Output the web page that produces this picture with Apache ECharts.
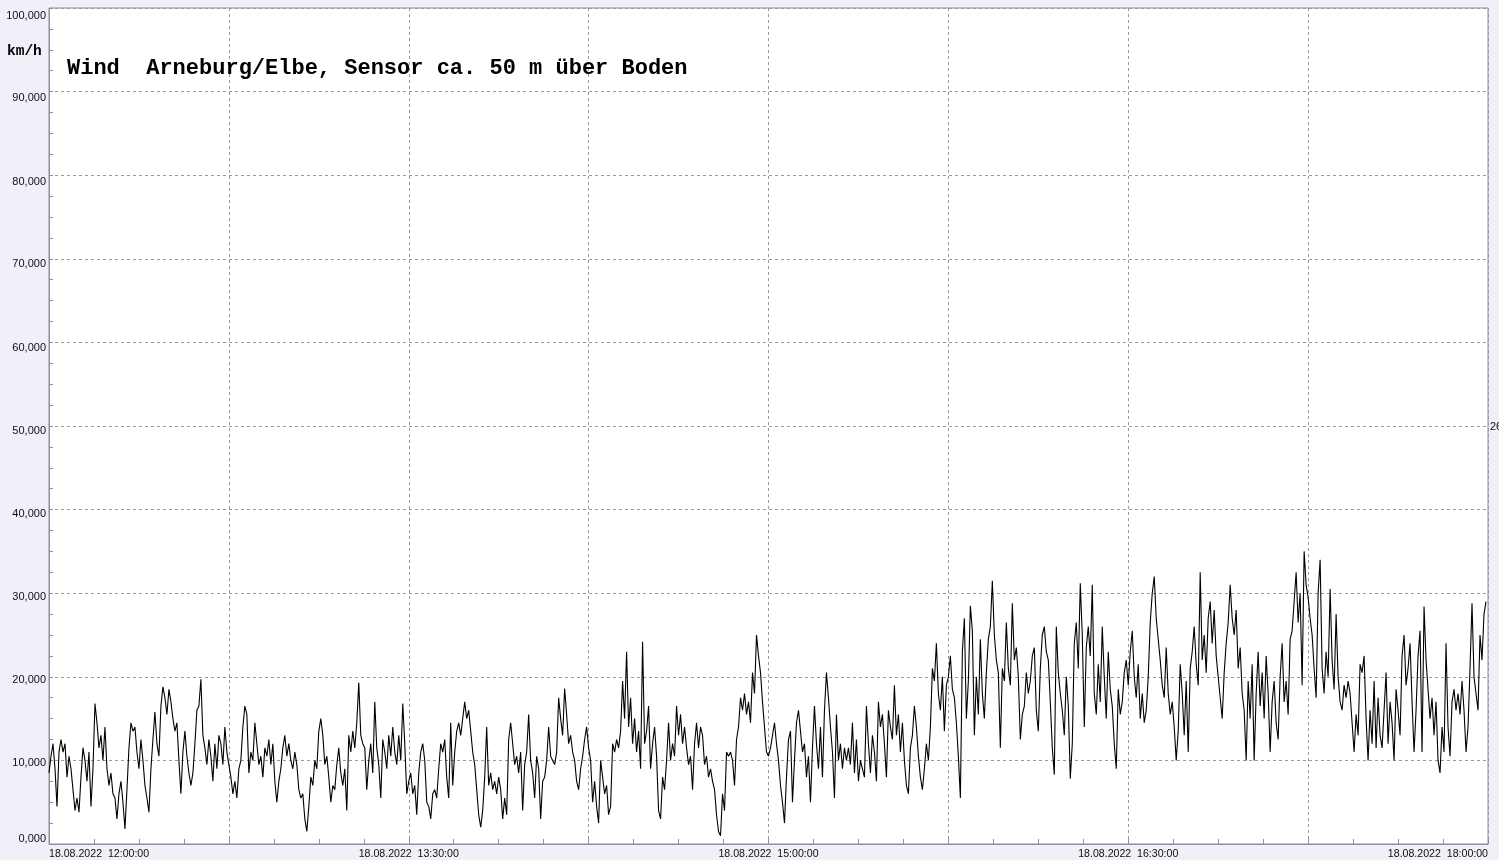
<!DOCTYPE html>
<html>
<head>
<meta charset="utf-8">
<script src="https://cdn.jsdelivr.net/npm/echarts@6/dist/echarts.min.js"></script>
<style>
html,body{margin:0;padding:0;background:#eff0f8;}
#chart{width:1499px;height:860px;}
</style>
</head>
<body>
<div id="chart"></div>
<script>
// Wind speed in km/h, one value every 30 s, in 45-minute blocks
const speed_1200 = [8.5,10.5,12.0,9.0,4.5,11.0,12.5,11.0,12.0,8.0,
10.5,9.0,6.5,4.0,5.5,3.8,8.0,11.5,10.0,7.5,
11.0,4.5,9.0,16.8,14.5,11.5,13.0,10.0,14.0,9.0,
7.0,8.5,6.0,5.5,3.0,6.0,7.5,5.0,1.8,6.5,
11.5,14.5,13.5,14.0,11.0,9.0,12.5,10.0,7.0,5.5,
3.8,9.0,12.5,15.8,12.0,10.5,16.5,18.8,17.5,15.5,
18.5,17.0,15.0,13.5,14.5,10.0,6.0,11.0,13.5,10.5,
8.5,7.0,8.5,12.0,16.0,16.5,19.7,13.0,11.5,9.5,
12.5,10.5,7.5,12.0,9.0,13.0,12.0,9.5,14.0,11.0];
const speed_1245 = [9.5,8.0,6.0,7.5,5.5,9.0,10.0,14.0,16.5,15.5,
8.5,11.0,10.0,14.5,12.0,9.5,10.5,8.0,11.5,10.5,
12.5,9.5,12.0,7.5,5.0,7.5,9.0,11.5,13.0,10.5,
12.0,10.0,9.0,11.0,9.5,6.5,5.5,6.0,3.0,1.5,
4.5,8.0,7.0,10.0,9.0,13.5,15.0,13.0,9.5,10.5,
8.0,5.0,7.0,6.5,9.5,11.5,8.5,7.0,9.0,4.0,
13.0,11.0,13.5,11.5,14.5,19.3,13.0,12.0,11.5,6.5,
10.0,12.0,8.5,17.0,11.5,9.5,5.5,12.5,11.0,9.0,
13.0,10.5,14.0,11.0,9.5,13.0,10.0,16.8,12.0,6.0];
const speed_1330 = [7.5,8.5,6.0,7.0,3.5,8.5,11.0,12.0,10.0,5.0,
4.5,3.0,6.0,6.5,5.5,9.0,12.0,11.0,12.5,8.0,
5.5,14.5,7.0,11.0,13.5,14.5,13.0,15.0,17.0,15.0,
16.0,13.5,11.0,9.5,6.5,3.5,2.0,4.0,8.0,14.0,
7.0,8.5,6.5,7.5,6.0,8.0,6.5,3.0,5.5,3.5,
12.5,14.5,12.0,9.5,10.5,8.5,11.0,4.0,9.5,11.0,
15.5,10.0,8.5,5.5,10.5,9.0,3.0,7.5,8.0,10.0,
14.0,10.5,10.0,9.5,11.0,17.5,15.0,13.0,18.6,15.5,
12.0,13.0,11.0,10.0,7.5,6.5,9.0,10.5,12.5,14.0];
const speed_1415 = [11.5,10.0,5.0,7.5,4.5,2.5,10.0,8.0,6.0,7.0,
3.5,4.5,12.0,11.0,12.5,11.5,13.5,19.5,15.0,23.0,
14.0,17.5,12.0,15.0,11.0,13.5,9.0,24.2,12.0,13.5,
16.5,9.0,12.0,14.0,10.5,4.0,3.0,8.0,6.5,10.0,
14.5,10.0,12.0,10.5,16.5,13.0,15.5,12.0,14.0,11.5,
9.5,10.5,6.5,12.0,14.5,11.5,14.0,13.0,9.5,10.5,
8.0,9.0,7.5,6.5,3.5,1.5,1.0,6.0,4.0,11.0,
10.5,11.0,10.0,7.0,12.5,14.0,17.5,16.0,18.0,15.5,
17.0,14.5,20.5,18.0,25.0,22.5,20.5,17.0,14.0,11.0];
const speed_1500 = [10.5,11.5,13.0,14.5,12.0,10.0,7.0,5.0,2.5,8.0,
12.5,13.5,5.0,10.0,14.5,16.0,13.5,11.0,12.0,8.0,
10.5,5.0,11.5,16.5,12.0,9.0,14.0,8.0,16.0,20.5,
17.5,14.0,11.0,5.5,15.5,10.0,12.0,9.0,11.5,10.0,
11.5,9.5,14.5,8.5,12.5,7.5,10.0,9.0,8.0,16.5,
12.0,8.5,13.0,11.0,7.5,17.0,14.0,15.5,12.0,8.0,
16.0,14.0,12.5,19.0,13.0,15.5,11.0,14.5,10.0,7.0,
6.0,11.5,13.0,16.5,14.0,10.5,8.0,6.5,9.0,12.0,
10.0,14.0,21.0,19.5,24.0,18.0,16.0,20.0,13.5,19.0];
const speed_1545 = [20.0,22.5,18.5,17.5,14.5,10.5,5.5,23.0,27.0,15.0,
19.5,28.5,25.5,13.0,20.0,15.5,24.5,18.0,15.0,20.5,
24.5,26.0,31.5,25.0,22.0,20.5,11.5,21.0,19.5,26.5,
21.0,19.0,28.8,22.0,23.5,20.0,12.5,15.5,16.5,20.5,
18.0,19.5,22.5,23.5,16.0,13.5,21.0,25.0,26.0,23.0,
22.0,17.0,11.5,8.3,26.0,20.5,18.0,16.0,13.0,20.0,
16.5,7.8,12.0,24.0,26.5,21.0,31.2,25.0,14.0,23.5,
26.0,22.5,31.0,18.0,15.5,21.5,17.0,26.0,20.0,15.0,
23.0,18.5,16.5,12.0,9.0,18.5,15.5,17.0,20.5,22.0];
const speed_1630 = [19.0,23.0,25.5,20.0,17.5,21.5,15.0,18.0,14.5,16.0,
20.0,26.5,30.0,32.0,27.0,24.5,22.0,19.0,17.5,23.5,
18.0,15.5,17.0,14.0,10.0,13.5,21.5,18.0,13.0,19.5,
11.0,21.0,23.0,26.0,21.5,19.0,32.5,22.0,25.0,20.5,
27.0,29.0,24.0,28.0,22.5,20.0,17.5,15.0,20.5,24.0,
26.5,31.0,27.0,25.0,28.0,21.0,23.5,18.0,16.0,10.0,
19.5,15.0,21.5,10.0,18.0,23.0,16.5,20.5,15.0,22.5,
18.0,11.0,17.0,19.5,14.5,12.5,20.0,24.0,17.0,19.5,
15.5,24.5,25.5,29.0,32.5,26.5,30.0,19.0,35.0,31.0];
const speed_1715 = [29.5,27.0,25.0,21.0,17.5,30.0,34.0,21.0,18.0,23.0,
20.0,30.5,22.0,18.5,27.5,20.0,17.0,16.0,19.0,17.5,
19.5,18.0,14.5,11.0,15.5,13.0,21.5,20.5,22.5,15.0,
10.0,16.0,12.0,19.5,11.5,17.5,13.0,11.5,16.0,20.5,
12.0,17.0,14.5,10.0,18.5,16.0,13.0,22.5,25.0,19.0,
21.0,24.0,17.0,11.0,16.0,22.5,25.5,11.0,28.4,22.0,
18.5,15.0,17.5,13.0,17.0,10.0,8.5,14.0,11.0,24.0,
14.0,10.5,17.0,18.5,16.0,18.0,15.5,19.5,16.0,11.0,
14.0,21.0,28.8,20.0,18.0,16.0,25.0,22.0,27.5,29.0];

const dateLabel = '18.08.2022';
const xTickMinutes = [0, 90, 180, 270, 360];
const xTickLabels = ['12:00:00', '13:30:00', '15:00:00', '16:30:00', '18:00:00'];
const yTickValues = [0,10,20,30,40,50,60,70,80,90,100];
const titleText = 'Wind  Arneburg/Elbe, Sensor ca. 50 m über Boden';
const unitText = 'km/h';
const edgeText = '26';
const stepMinutes = 0.5;

const allSpeeds = [].concat(speed_1200, speed_1245, speed_1330, speed_1415,
  speed_1500, speed_1545, speed_1630, speed_1715);
const seriesData = allSpeeds.map((v, i) => [i * stepMinutes, v]);

const labelFont = 'Liberation Sans, Arial, sans-serif';

// per-tick vertical offsets of the y labels (style only)
function yOffset(v) {
  if (v === 0) return -6;
  if (v === 100) return 7;
  return Math.round(2 + v * 0.045);
}
const yRich = {};
yTickValues.forEach((v, i) => {
  const d = yOffset(v);
  yRich['p' + i] = {
    fontSize: 11, fontFamily: labelFont, color: '#111',
    padding: d >= 0 ? [2 * d + 1, 0, 0, 0] : [0, 0, -2 * d - 1, 0]
  };
});

const chart = echarts.init(document.getElementById('chart'), null, {renderer: 'canvas'});
chart.setOption({
  animation: false,
  backgroundColor: '#eff0f8',
  grid: {
    left: 49, right: 11, top: 8, bottom: 16,
    show: true, backgroundColor: '#ffffff', borderColor: '#8e8e9e', borderWidth: 1
  },
  xAxis: {
    type: 'value', min: 0, max: 360, interval: 45,
    axisLine: {show: true, lineStyle: {color: '#8e8e9e', width: 1}},
    axisTick: {show: true, inside: true, length: 5, lineStyle: {color: '#8e8e9e'}},
    minorTick: {show: true, splitNumber: 4, length: 5, lineStyle: {color: '#8e8e9e'}},
    splitLine: {show: true, lineStyle: {color: '#9a9a9a', type: [3, 3], width: 1}},
    axisLabel: {
      show: true, margin: 5, fontSize: 10.6, fontFamily: labelFont, color: '#111',
      showMinLabel: true, showMaxLabel: true,
      alignMinLabel: 'left', alignMaxLabel: 'right',
      formatter: function (v) {
        const k = xTickMinutes.indexOf(Math.round(v));
        return k >= 0 ? dateLabel + '  ' + xTickLabels[k] : '';
      }
    }
  },
  yAxis: {
    type: 'value', min: 0, max: 100, interval: 10,
    axisLine: {show: true, lineStyle: {color: '#8e8e9e', width: 1}},
    axisTick: {show: true, inside: true, length: 4, lineStyle: {color: '#8e8e9e'}},
    minorTick: {show: true, splitNumber: 4, length: 4, lineStyle: {color: '#8e8e9e'}},
    splitLine: {show: true, lineStyle: {color: '#9a9a9a', type: [3, 3], width: 1}},
    axisLabel: {
      show: true, margin: 3, fontSize: 11, fontFamily: labelFont, color: '#111',
      showMinLabel: true, showMaxLabel: true,
      formatter: function (v) {
        const i = yTickValues.indexOf(Math.round(v));
        const txt = v.toFixed(3).replace('.', ',');
        return i >= 0 ? '{p' + i + '|' + txt + '}' : txt;
      },
      rich: yRich
    }
  },
  graphic: [
    {type: 'text', left: 67, top: 57, z: 100,
     style: {text: titleText, font: 'bold 22px "Liberation Mono", "DejaVu Sans Mono", monospace', fill: '#000'}},
    {type: 'text', left: 7, top: 44, z: 100,
     style: {text: unitText, font: 'bold 14.5px "Liberation Mono", "DejaVu Sans Mono", monospace', fill: '#000'}},
    {type: 'text', left: 1490, top: 421, z: 100,
     style: {text: edgeText, font: '11px ' + labelFont, fill: '#111'}}
  ],
  series: [{
    type: 'line', data: seriesData, showSymbol: false, symbol: 'none',
    sampling: null, smooth: false,
    lineStyle: {color: '#000', width: 1.1},
    z: 3
  }]
});
</script>
</body>
</html>
